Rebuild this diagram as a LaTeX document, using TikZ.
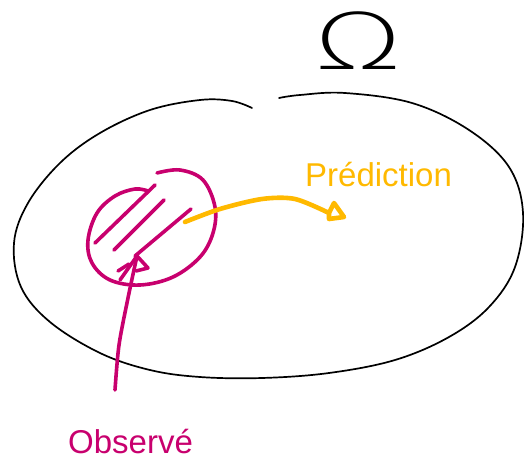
\documentclass[tikz,border=0pt]{standalone}
\usepackage{fontspec}
\newfontfamily\handfont{Liberation Sans}
\newfontfamily\thinfont{DejaVu Sans ExtraLight}
\definecolor{obscol}{RGB}{200,0,110}
\definecolor{predcol}{RGB}{255,185,0}
\begin{document}
\begin{tikzpicture}[x=1pt,y=-1pt,line cap=round,line join=round,
  inkblack/.style={draw=black,line width=1.7pt},
  inkobs/.style={draw=obscol,line width=3.6pt},
  inkpred/.style={draw=predcol,line width=4.6pt},
  lbl/.style={inner sep=0pt,anchor=base west,font=\handfont\fontsize{33}{33}\selectfont}]
\useasboundingbox (0,0) rectangle (524,462);
% universe region
\draw[inkblack] plot[smooth,tension=0.6] coordinates {(252,108) (232,101) (200,100) (150,110) (100,133) (60,163) (28,203) (14,243) (21,287) (50,322) (100,353) (150,370) (200,377) (262,378) (329,373) (395,360) (449,337) (489,307) (515,267) (523,213) (509,167) (469,130) (412,103) (345,93) (300,95) (279,98)};
\node[inner sep=0pt,anchor=base] (omega) at (358,70) {\scalebox{1.55}[1.05]{\thinfont\fontsize{74}{74}\selectfont Ω}};
% observed region
\draw[inkobs] plot[smooth,tension=0.6] coordinates {(157,173) (180,170) (203,180) (215,207) (213,233) (200,257) (173,277) (140,285) (110,280) (92,263) (88,240) (97,213) (115,196) (135,189) (148,191)};
\draw[inkobs] (95,243) -- (155,185);
\draw[inkobs] (114,250) -- (164,200);
\draw[inkobs] (135,256) -- (191,209);
% labels
\node[lbl,text=obscol] (obs) at (68,453) {Observé};
\node[lbl,text=predcol] (pred) at (305,187) {Prédiction};
% arrow from label to observed region
\coordinate (obsTail) at (115,390);
\coordinate (obsTip) at (137,256);
\draw[inkobs] plot[smooth] coordinates {(obsTail) (119,345) (128,298) (obsTip)};
\draw[inkobs] (120,280) -- (obsTip) -- (148,268) -- (136,271);
\draw[inkobs] (118,271) -- (129,264);
% prediction arrow
\coordinate (predTail) at (185,222);
\coordinate (predTip) at (329,213);
\draw[inkpred] plot[smooth] coordinates {(predTail) (220,209) (262,199) (295,199) (predTip)};
\draw[inkpred] (predTip) -- (334,203) -- (344,217) -- (329,219) -- cycle;
\end{tikzpicture}
\end{document}
